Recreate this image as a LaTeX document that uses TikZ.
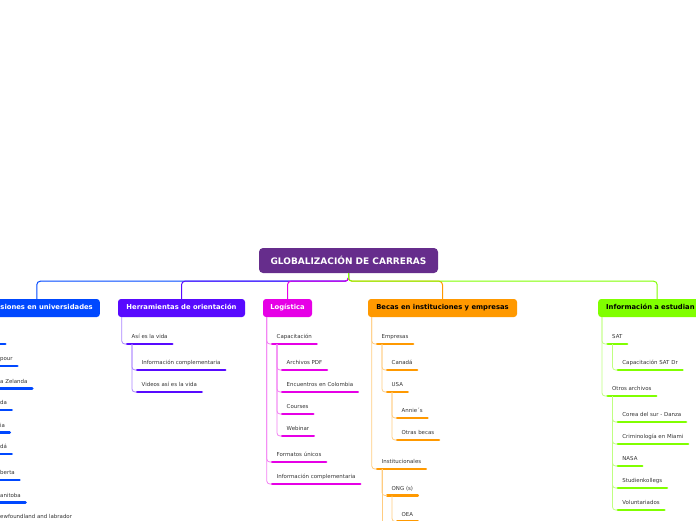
\documentclass[tikz,border=0pt]{standalone}
\usepackage{fontspec}
\setmainfont{DejaVu Sans}
\definecolor{cmain}{RGB}{102,45,140}
\definecolor{cblue}{RGB}{0,72,255}
\definecolor{cpurp}{RGB}{88,10,255}
\definecolor{cmag}{RGB}{230,0,230}
\definecolor{corg}{RGB}{255,153,0}
\definecolor{cgrn}{RGB}{128,255,0}
\definecolor{ctxt}{RGB}{51,51,51}
\tikzset{
  topbox/.style={rounded corners=3pt, minimum height=18pt, inner xsep=7pt, inner ysep=0pt,
    font=\bfseries\fontsize{6.8}{8}\selectfont, text height=5pt, text depth=1.3pt},
  subitem/.style={anchor=south west, inner xsep=4.5pt, inner ysep=3.8pt, text height=4pt,
    text depth=1.2pt, text=ctxt, font=\fontsize{5.45}{6}\selectfont,
    append after command={(\tikzlastnode.south west) edge[draw=#1, line width=2.7pt, line cap=round] (\tikzlastnode.south east)}},
  mainconn/.style={line width=1pt, rounded corners=3.5pt},
  subconn/.style={draw=#1!50, line width=0.8pt, rounded corners=3pt},
  barline/.style={draw=#1, line width=2.7pt, line cap=round}
}
\begin{document}
\begin{tikzpicture}[x=1pt,y=-1pt]
\useasboundingbox (0,0) rectangle (696,520);
% central
\node[rounded corners=4pt, fill=cmain, text=white, minimum width=179pt, minimum height=25pt,
  font=\bfseries\fontsize{9}{10}\selectfont] (gc) at (348.5,260.5) {GLOBALIZACIÓN DE CARRERAS};
% main boxes
\node[topbox, fill=cblue, text=white, anchor=east, text width=112pt, align=right] (adm) at (100,308) {siones en universidades};
\node[topbox, fill=cpurp, text=white, minimum width=127pt] (herr) at (181.5,308) {Herramientas de orientación};
\node[topbox, fill=cmag, text=white, minimum width=49pt] (log) at (287.5,308) {Logística};
\node[topbox, fill=corg, text=black, minimum width=149pt] (becas) at (442.5,308) {Becas en instituciones y empresas};
\node[topbox, fill=cgrn, text=black, anchor=west, inner xsep=8pt, text width=102pt, align=left] (info) at (598,308) {Información a estudian};
% main connectors
\draw[mainconn, draw=cblue] (gc.south) -- ++(0,8) -| (adm.north);
\draw[mainconn, draw=cpurp] (gc.south) -- ++(0,8) -| (herr.north);
\draw[mainconn, draw=cmag] (gc.south) -- ++(0,8) -| (log.north);
\draw[mainconn, draw=corg] (gc.south) -- ++(0,8) -| (becas.north);
\draw[mainconn, draw=cgrn] (gc.south) -- ++(0,8) -| (info.north);

% ---- blue branch (mostly off page)
\coordinate (b0s) at (-30,344);
\coordinate (b0e) at (5.3,344);
\draw[barline=cblue] (b0s) -- (b0e);
\node[subitem=cblue] (b1) at (-4.5,366) {pour};
\node[subitem=cblue] (b2) at (-4.5,388.3) {a Zelanda};
\node[subitem=cblue] (b3) at (-4.5,410) {da};
\node[subitem=cblue] (b4) at (-4.5,432.3) {ia};
\node[subitem=cblue] (b5) at (-4.5,454) {dá};
\node[subitem=cblue] (b6) at (-4.5,480) {berta};
\node[subitem=cblue] (b7) at (-4.5,502.3) {anitoba};
\node[subitem=cblue] (b8) at (-4.5,524) {ewfoundland and labrador};

% ---- purple branch
\node[subitem=cpurp] (asi) at (127,344) {Así es la vida};
\node[subitem=cpurp] (infc1) at (137,370) {Información complementaria};
\node[subitem=cpurp] (vid) at (137,392) {Videos así es la vida};
\draw[subconn=cpurp] ([xshift=4pt]herr.south west) |- (asi.south west);
\draw[subconn=cpurp] ([xshift=5pt]asi.south west) |- (infc1.south west);
\draw[subconn=cpurp] ([xshift=5pt]asi.south west) |- (vid.south west);

% ---- magenta branch
\node[subitem=cmag] (cap) at (272,344) {Capacitación};
\node[subitem=cmag] (pdf) at (282,370) {Archivos PDF};
\node[subitem=cmag] (enc) at (282,392) {Encuentros en Colombia};
\node[subitem=cmag] (cour) at (282,414) {Courses};
\node[subitem=cmag] (web) at (282,436) {Webinar};
\node[subitem=cmag] (form) at (272,462) {Formatos únicos};
\node[subitem=cmag] (infc2) at (272,484) {Información complementaria};
\draw[subconn=cmag] ([xshift=4pt]log.south west) |- (cap.south west);
\draw[subconn=cmag] ([xshift=4pt]log.south west) |- (form.south west);
\draw[subconn=cmag] ([xshift=4pt]log.south west) |- (infc2.south west);
\draw[subconn=cmag] ([xshift=5pt]cap.south west) |- (pdf.south west);
\draw[subconn=cmag] ([xshift=5pt]cap.south west) |- (enc.south west);
\draw[subconn=cmag] ([xshift=5pt]cap.south west) |- (cour.south west);
\draw[subconn=cmag] ([xshift=5pt]cap.south west) |- (web.south west);

% ---- orange branch
\node[subitem=corg] (emp) at (377,344) {Empresas};
\node[subitem=corg] (can) at (387,370) {Canadá};
\node[subitem=corg] (usa) at (387,392) {USA};
\node[subitem=corg] (ann) at (397,418) {Annie´s};
\node[subitem=corg] (otb) at (397,440) {Otras becas};
\node[subitem=corg] (inst) at (377,469) {Institucionales};
\node[subitem=corg] (ong) at (387,495.5) {ONG (s)};
\node[subitem=corg] (oea) at (397,521.5) {OEA};
\coordinate (instmore) at (382,560);
\draw[subconn=corg] ([xshift=4pt]becas.south west) |- (emp.south west);
\draw[subconn=corg] ([xshift=4pt]becas.south west) |- (inst.south west);
\draw[subconn=corg] ([xshift=5pt]emp.south west) |- (can.south west);
\draw[subconn=corg] ([xshift=5pt]emp.south west) |- (usa.south west);
\draw[subconn=corg] ([xshift=5pt]usa.south west) |- (ann.south west);
\draw[subconn=corg] ([xshift=5pt]usa.south west) |- (otb.south west);
\draw[subconn=corg] ([xshift=5pt]inst.south west) |- (ong.south west);
\draw[subconn=corg] ([xshift=5pt]inst.south west) -- (instmore);
\draw[subconn=corg] ([xshift=5pt]ong.south west) |- (oea.south west);

% ---- green branch
\node[subitem=cgrn] (sat) at (607.5,344) {SAT};
\node[subitem=cgrn] (capsat) at (617.7,370) {Capacitación SAT Dr};
\node[subitem=cgrn] (otros) at (607.5,396) {Otros archivos};
\node[subitem=cgrn] (corea) at (617.7,422) {Corea del sur - Danza};
\node[subitem=cgrn] (crim) at (617.7,444) {Criminología en Miami};
\node[subitem=cgrn] (nasa) at (617.7,466) {NASA};
\node[subitem=cgrn] (stud) at (617.7,488) {Studienkollegs};
\node[subitem=cgrn] (vol) at (617.7,510) {Voluntariados};
\draw[subconn=cgrn] ([xshift=4pt]info.south west) |- (sat.south west);
\draw[subconn=cgrn] ([xshift=4pt]info.south west) |- (otros.south west);
\draw[subconn=cgrn] ([xshift=5pt]sat.south west) |- (capsat.south west);
\draw[subconn=cgrn] ([xshift=5pt]otros.south west) |- (corea.south west);
\draw[subconn=cgrn] ([xshift=5pt]otros.south west) |- (crim.south west);
\draw[subconn=cgrn] ([xshift=5pt]otros.south west) |- (nasa.south west);
\draw[subconn=cgrn] ([xshift=5pt]otros.south west) |- (stud.south west);
\draw[subconn=cgrn] ([xshift=5pt]otros.south west) |- (vol.south west);
\end{tikzpicture}
\end{document}
